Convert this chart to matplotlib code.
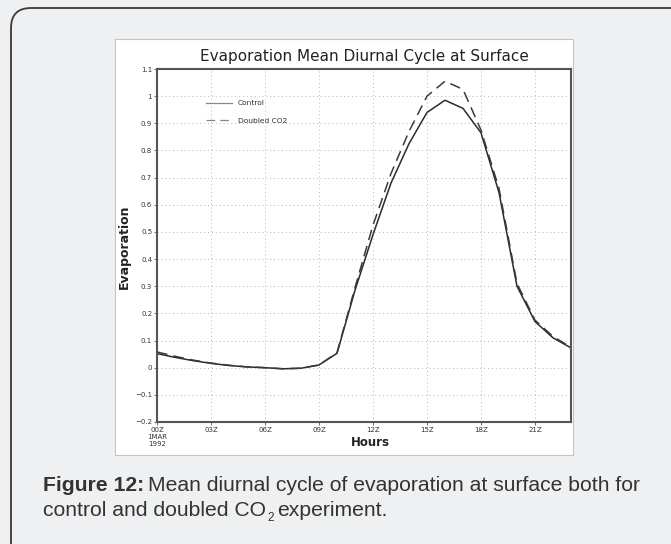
import numpy as np
import matplotlib.pyplot as plt
from matplotlib.patches import FancyBboxPatch, Rectangle
from matplotlib.transforms import IdentityTransform

# hourly mean diurnal cycle (00Z .. 23Z)
hours = list(range(24))
control = [0.052, 0.038, 0.026, 0.016, 0.008, 0.003, 0.000, -0.004, -0.002, 0.010,
           0.053, 0.285, 0.490, 0.680, 0.825, 0.940, 0.985, 0.955, 0.865, 0.645,
           0.300, 0.170, 0.110, 0.073]
doubled = [0.058, 0.042, 0.028, 0.017, 0.009, 0.003, 0.000, -0.004, -0.002, 0.010,
           0.055, 0.295, 0.525, 0.715, 0.870, 1.000, 1.055, 1.025, 0.875, 0.660,
           0.310, 0.175, 0.115, 0.075]

xticks = [0, 3, 6, 9, 12, 15, 18, 21]
xlabels = ['00Z\n1MAR\n1992', '03Z', '06Z', '09Z', '12Z', '15Z', '18Z', '21Z']
yticks = [-0.2, -0.1, 0, 0.1, 0.2, 0.3, 0.4, 0.5, 0.6, 0.7, 0.8, 0.9, 1, 1.1]
ylabels = ['\u22120.2', '\u22120.1', '0', '0.1', '0.2', '0.3', '0.4', '0.5', '0.6',
           '0.7', '0.8', '0.9', '1', '1.1']

W, H = 671, 544
fig = plt.figure(figsize=(W / 100, H / 100), dpi=100)
fig.patch.set_facecolor('#eff0f2')

# outer rounded frame (pixel coords)
frame = FancyBboxPatch((11, -30), 700, 566, boxstyle='round,pad=0,rounding_size=20',
                       transform=IdentityTransform(), facecolor='none',
                       edgecolor='#3a3a3a', linewidth=1.3, zorder=-5)
fig.patches.append(frame)

# white image panel
panel = Rectangle((115 / W, 1 - 455 / H), 458 / W, 416 / H, transform=fig.transFigure,
                  facecolor='white', edgecolor='#c4c4c4', linewidth=0.8, zorder=-5)
fig.patches.append(panel)

ax = fig.add_axes([157 / W, 1 - 422 / H, 414 / W, 353 / H])
ax.set_facecolor('white')
ax.plot(hours, control, color='#2b2b2b', lw=1.1, label='Control')
ax.plot(hours, doubled, color='#3a3a3a', lw=1.1, dashes=(7, 4), label='Doubled CO2')

ax.set_xlim(0, 23)
ax.set_ylim(-0.2, 1.1)
ax.set_xticks(xticks)
ax.set_xticklabels(xlabels, fontsize=5, color='#333333', linespacing=1.25, va='top')
ax.set_yticks(yticks)
ax.set_yticklabels(ylabels, fontsize=5, color='#333333')
ax.tick_params(length=2, width=0.6, color='#555555', pad=1.5)
ax.grid(True, color='#b8b8b8', linestyle=(0, (1, 3)), linewidth=0.7)
for s in ax.spines.values():
    s.set_color('#555555')
    s.set_linewidth(1.5)

leg = ax.legend(loc='upper left', bbox_to_anchor=(0.118, 0.912), frameon=False,
                fontsize=5.4, handlelength=3.5, handletextpad=0.8, labelspacing=1.5,
                borderpad=0, borderaxespad=0)
for ln in leg.get_lines():
    ln.set_color('#888888')
    ln.set_linewidth(0.9)
for t in leg.get_texts():
    t.set_color('#333333')

fig.text(364 / W, 1 - 60.5 / H, 'Evaporation Mean Diurnal Cycle at Surface',
         ha='center', va='baseline', fontsize=11, color='#222222')
fig.text(124 / W, 1 - 247 / H, 'Evaporation', rotation=90, ha='center', va='center',
         fontsize=9, fontweight='bold', color='#222222')
fig.text(370 / W, 1 - 442 / H, 'Hours', ha='center', va='center',
         fontsize=8.5, fontweight='bold', color='#222222')

# caption
cap_kw = dict(ha='left', va='baseline', fontsize=15.2, family='Liberation Sans', color='#333333')
t1 = fig.text(43 / W, 1 - 491 / H, 'Figure 12:', fontweight='bold', **cap_kw)
fig.canvas.draw()
x1 = t1.get_window_extent().x1
fig.text((x1 + 4) / W, 1 - 491 / H,
         'Mean diurnal cycle of evaporation at surface both for', **cap_kw)
t3 = fig.text(43 / W, 1 - 516 / H, 'control and doubled CO', **cap_kw)
fig.canvas.draw()
x3 = t3.get_window_extent().x1
t4 = fig.text((x3 + 1) / W, 1 - 521 / H, '2', ha='left', va='baseline', fontsize=8.5,
              family='Liberation Sans', color='#333333')
fig.canvas.draw()
x4 = t4.get_window_extent().x1
fig.text((x4 + 4) / W, 1 - 516 / H, 'experiment.', **cap_kw)

fig.savefig('out.png', dpi=100, facecolor=fig.get_facecolor())
